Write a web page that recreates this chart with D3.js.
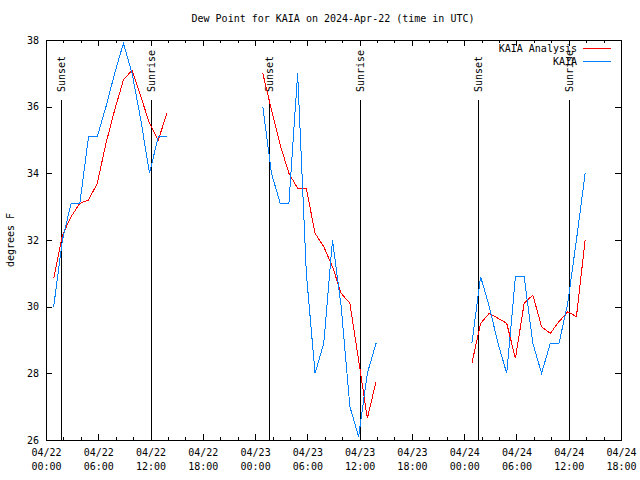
<!DOCTYPE html>
<html>
<head>
<meta charset="utf-8">
<script src="https://cdn.jsdelivr.net/npm/d3@7"></script>
<style>
  html, body { margin: 0; padding: 0; background: #fff; }
  svg { display: block; }
  text { font-family: "DejaVu Sans Mono", monospace; font-size: 10px; fill: #000; }
</style>
</head>
<body>
<svg id="chart" width="640" height="480"></svg>
<script>
// ---- data ----
const times = [
  "2024-04-22T00:53Z","2024-04-22T01:53Z","2024-04-22T02:53Z","2024-04-22T03:53Z","2024-04-22T04:53Z","2024-04-22T05:53Z","2024-04-22T06:53Z",
  "2024-04-22T07:53Z","2024-04-22T08:53Z","2024-04-22T09:53Z","2024-04-22T10:53Z","2024-04-22T11:53Z","2024-04-22T12:53Z","2024-04-22T13:53Z",
  "2024-04-23T00:53Z","2024-04-23T01:53Z","2024-04-23T02:53Z","2024-04-23T03:53Z","2024-04-23T04:53Z","2024-04-23T05:53Z","2024-04-23T06:53Z",
  "2024-04-23T07:53Z","2024-04-23T08:53Z","2024-04-23T09:53Z","2024-04-23T10:53Z","2024-04-23T11:53Z","2024-04-23T12:53Z","2024-04-23T13:53Z",
  "2024-04-24T00:53Z","2024-04-24T01:53Z","2024-04-24T02:53Z","2024-04-24T03:53Z","2024-04-24T04:53Z","2024-04-24T05:53Z","2024-04-24T06:53Z",
  "2024-04-24T07:53Z","2024-04-24T08:53Z","2024-04-24T09:53Z","2024-04-24T10:53Z","2024-04-24T11:53Z","2024-04-24T12:53Z","2024-04-24T13:53Z"
];
const kaiaAnalysis = [
  30.85, 32.15, 32.7, 33.1, 33.2, 33.7, 34.9, 35.9, 36.8, 37.1, 36.3, 35.5, 35.0, 35.8,
  37.0, 35.9, 34.85, 34.0, 33.55, 33.55, 32.2, 31.8, 31.2, 30.4, 30.1, 28.4, 26.65, 27.75,
  28.3, 29.5, 29.8, 29.65, 29.5, 28.45, 30.1, 30.35, 29.4, 29.2, 29.55, 29.85, 29.7, 32.0
];
const kaiaObs = [
  30.0, 32.0, 33.1, 33.1, 35.1, 35.1, 36.0, 37.0, 37.9, 37.0, 35.6, 34.0, 35.1, 35.1,
  36.0, 34.0, 33.1, 33.1, 37.0, 31.0, 28.0, 28.9, 32.0, 30.0, 27.0, 26.1, 28.0, 28.9,
  28.9, 30.9, 30.0, 28.9, 28.0, 30.9, 30.9, 28.9, 28.0, 28.9, 28.9, 30.1, 32.0, 34.0
];
const sunEvents = [
  { label: "Sunset",  time: "2024-04-22T01:40Z" },
  { label: "Sunrise", time: "2024-04-22T12:02Z" },
  { label: "Sunset",  time: "2024-04-23T01:38Z" },
  { label: "Sunrise", time: "2024-04-23T12:00Z" },
  { label: "Sunset",  time: "2024-04-24T01:36Z" },
  { label: "Sunrise", time: "2024-04-24T11:59Z" }
];
const xDomain = ["2024-04-22T00:00Z", "2024-04-24T18:00Z"];
const yDomain = [26, 38];
const yTicks = [26, 28, 30, 32, 34, 36, 38];
const seriesNames = ["KAIA Analysis", "KAIA"];
const seriesColors = ["#ff0000", "#0080ff"];
const titleText = "Dew Point for KAIA on 2024-Apr-22 (time in UTC)";
const yLabel = "degrees F";

// ---- layout ----
const L = 46, R = 621, T = 40, B = 440;
const svg = d3.select("#chart");
const x = d3.scaleUtc().domain(xDomain.map(d => new Date(d))).range([L, R]);
const y = d3.scaleLinear().domain(yDomain).range([B, T]);

svg.append("rect").attr("width", 640).attr("height", 480).attr("fill", "#fff");

// title
svg.append("text").attr("x", 333).attr("y", 19).attr("text-anchor", "middle")
  .attr("dominant-baseline", "middle").text(titleText);

// y label
svg.append("text").attr("transform", "translate(11,240) rotate(-90)")
  .attr("text-anchor", "middle").attr("dominant-baseline", "middle").text(yLabel);

const majorX = d3.utcHour.every(6).range(new Date(xDomain[0]), d3.utcHour.offset(new Date(xDomain[1]), 1));
const minorX = d3.utcHour.every(2).range(new Date(xDomain[0]), d3.utcHour.offset(new Date(xDomain[1]), 1))
  .filter(d => d.getUTCHours() % 6 !== 0);

// bottom axis (ticks inward)
const gB = svg.append("g").attr("transform", `translate(0,${B})`)
  .call(d3.axisBottom(x).tickValues(majorX).tickSizeInner(-6).tickSizeOuter(0).tickPadding(8)
    .tickFormat(d3.utcFormat("%m/%d")));
gB.select(".domain").remove();
gB.selectAll(".tick text").each(function(d) {
  const t = d3.select(this);
  t.text(null).attr("y", 0).attr("dy", null);
  t.append("tspan").attr("x", 0).attr("y", 13).attr("dominant-baseline", "middle").text(d3.utcFormat("%m/%d")(d));
  t.append("tspan").attr("x", 0).attr("y", 27).attr("dominant-baseline", "middle").text(d3.utcFormat("%H:%M")(d));
});
const gBm = svg.append("g").attr("transform", `translate(0,${B})`)
  .call(d3.axisBottom(x).tickValues(minorX).tickSizeInner(-3).tickSizeOuter(0).tickFormat(""));
gBm.select(".domain").remove();

// top axis mirror
const gT = svg.append("g").attr("transform", `translate(0,${T})`)
  .call(d3.axisTop(x).tickValues(majorX).tickSizeInner(-6).tickSizeOuter(0).tickFormat(""));
gT.select(".domain").remove();
const gTm = svg.append("g").attr("transform", `translate(0,${T})`)
  .call(d3.axisTop(x).tickValues(minorX).tickSizeInner(-3).tickSizeOuter(0).tickFormat(""));
gTm.select(".domain").remove();

// left axis
const gL = svg.append("g").attr("transform", `translate(${L},0)`)
  .call(d3.axisLeft(y).tickValues(yTicks).tickSizeInner(-6).tickSizeOuter(0).tickPadding(7).tickFormat(d3.format("d")));
gL.select(".domain").remove();
// right axis mirror
const gR = svg.append("g").attr("transform", `translate(${R},0)`)
  .call(d3.axisRight(y).tickValues(yTicks).tickSizeInner(-6).tickSizeOuter(0).tickFormat(""));
gR.select(".domain").remove();

svg.selectAll(".tick line").attr("stroke", "#000").attr("shape-rendering", "crispEdges");
svg.selectAll(".tick text").style("font-family", "'DejaVu Sans Mono', monospace").style("font-size", "10px").attr("fill", "#000");

// sunrise / sunset lines
const sun = svg.append("g");
sunEvents.forEach(e => {
  const sx = Math.round(x(new Date(e.time))) + 0.5;
  sun.append("line").attr("x1", sx).attr("x2", sx).attr("y1", 100).attr("y2", B)
    .attr("stroke", "#000").attr("stroke-width", 1).attr("shape-rendering", "crispEdges");
  sun.append("text").attr("transform", `translate(${sx},92) rotate(-90)`)
    .attr("text-anchor", "start").attr("dominant-baseline", "middle").text(e.label);
});

// data lines, split at gaps
const rows = times.map((t, i) => ({ t: new Date(t), a: kaiaAnalysis[i], k: kaiaObs[i] }));
const segments = [];
rows.forEach((r, i) => {
  if (i === 0 || (r.t - rows[i - 1].t) > 3 * 3600e3) segments.push([]);
  segments[segments.length - 1].push(r);
});
const lineA = d3.line().x(d => x(d.t)).y(d => y(d.a));
const lineK = d3.line().x(d => x(d.t)).y(d => y(d.k));
segments.forEach(seg => {
  svg.append("path").attr("d", lineA(seg)).attr("fill", "none")
    .attr("stroke", seriesColors[0]).attr("stroke-width", 1).attr("shape-rendering", "crispEdges");
  svg.append("path").attr("d", lineK(seg)).attr("fill", "none")
    .attr("stroke", seriesColors[1]).attr("stroke-width", 1).attr("shape-rendering", "crispEdges");
});

// frame
svg.append("rect").attr("x", L + 0.5).attr("y", T + 0.5).attr("width", R - L).attr("height", B - T)
  .attr("fill", "none").attr("stroke", "#000").attr("stroke-width", 1).attr("shape-rendering", "crispEdges");

// legend
const leg = svg.append("g");
seriesNames.forEach((n, i) => {
  const ly = 49 + i * 13;
  leg.append("text").attr("x", 577).attr("y", ly).attr("text-anchor", "end")
    .attr("dominant-baseline", "middle").text(n);
  leg.append("line").attr("x1", 583).attr("x2", 611).attr("y1", ly - 0.5).attr("y2", ly - 0.5)
    .attr("stroke", seriesColors[i]).attr("stroke-width", 1).attr("shape-rendering", "crispEdges");
});
</script>
</body>
</html>
